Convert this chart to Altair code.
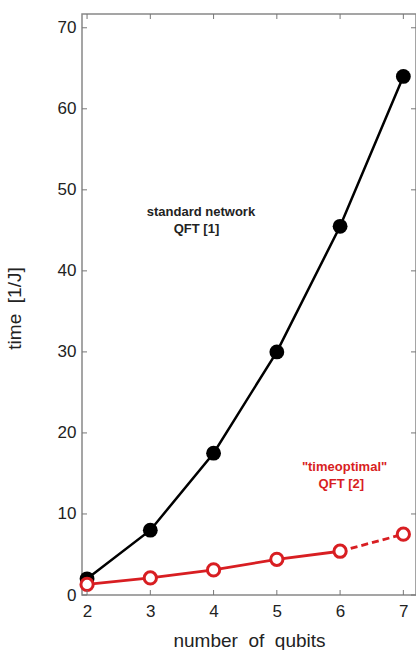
import altair as alt
import pandas as pd

qubits = [2, 3, 4, 5, 6, 7]
standard_qft = [2.0, 8.0, 17.5, 30.0, 45.5, 64.0]
timeopt_qubits = [2, 3, 4, 5, 6]
timeopt_qft = [1.3, 2.1, 3.1, 4.4, 5.4]
timeopt_ext_qubits = [6, 7]
timeopt_ext = [5.4, 7.5]
x_ticks = [2, 3, 4, 5, 6, 7]
y_ticks = [0, 10, 20, 30, 40, 50, 60, 70]

W, H = 334, 581
FONT = "Liberation Sans"
RED = "#d81e22"
NB = "\u00a0"

std_df = pd.DataFrame({"q": qubits, "t": standard_qft})
opt_df = pd.DataFrame({"q": timeopt_qubits, "t": timeopt_qft})
ext_df = pd.DataFrame({"q": timeopt_ext_qubits, "t": timeopt_ext})
opt_pts = pd.DataFrame({"q": timeopt_qubits + [7], "t": timeopt_qft + [7.5]})

xs = alt.Scale(domain=[1.92, 7.2], nice=False, zero=False)
ys = alt.Scale(domain=[0, 71.7], nice=False)

X = alt.X("q:Q", scale=xs, axis=alt.Axis(values=x_ticks, format="d",
           title=f"number{NB} of{NB} qubits",
           labelFontSize=17, titleFontSize=19, labelFont=FONT, titleFont=FONT,
           labelColor="#222", titleColor="#222", ticks=False, domain=False, grid=False,
           labelPadding=8, titlePadding=12, titleFontWeight="normal"))
Y = alt.Y("t:Q", scale=ys, axis=alt.Axis(values=y_ticks, title=f"time{NB} [1/J]",
           labelFontSize=17, titleFontSize=19, labelFont=FONT, titleFont=FONT,
           labelColor="#222", titleColor="#222", ticks=False, domain=False, grid=False,
           labelPadding=6, titleX=-58, titleY=294, titleFontWeight="normal"))

std_line = alt.Chart(std_df).mark_line(color="black", strokeWidth=2.5).encode(x=X, y=Y)
std_pts = alt.Chart(std_df).mark_point(filled=True, color="black", size=220, opacity=1).encode(x="q:Q", y="t:Q")
opt_line = alt.Chart(opt_df).mark_line(color=RED, strokeWidth=2.8).encode(x="q:Q", y="t:Q")
ext_line = alt.Chart(ext_df).mark_line(color=RED, strokeWidth=2.8, strokeDash=[7, 4]).encode(x="q:Q", y="t:Q")
opt_marks = alt.Chart(opt_pts).mark_point(color=RED, fill="white", filled=False, size=150,
                                          strokeWidth=3, opacity=1, fillOpacity=1).encode(x="q:Q", y="t:Q")

# inward ticks
xt = pd.DataFrame({"q": x_ticks})
yt = pd.DataFrame({"t": y_ticks})
TK = "#777"
xb = alt.Chart(xt).mark_rule(color=TK, strokeWidth=1).encode(x="q:Q", y=alt.value(H), y2=alt.value(H - 5))
xtop = alt.Chart(xt).mark_rule(color=TK, strokeWidth=1).encode(x="q:Q", y=alt.value(0), y2=alt.value(5))
yl = alt.Chart(yt).mark_rule(color=TK, strokeWidth=1).encode(y="t:Q", x=alt.value(0), x2=alt.value(5))
yr = alt.Chart(yt).mark_rule(color=TK, strokeWidth=1).encode(y="t:Q", x=alt.value(W), x2=alt.value(W - 5))

labels_std = pd.DataFrame({"q": [3.8, 3.73], "t": [47.3, 45.2], "s": ["standard network", "QFT [1]"]})
labels_opt = pd.DataFrame({"q": [6.07, 6.02], "t": [15.8, 13.7], "s": ["\"timeoptimal\"", "QFT [2]"]})
txt_std = alt.Chart(labels_std).mark_text(font=FONT, fontSize=13, color="#222", fontWeight="bold").encode(
    x="q:Q", y="t:Q", text="s:N")
txt_opt = alt.Chart(labels_opt).mark_text(font=FONT, fontSize=13, color=RED, fontWeight="bold").encode(
    x="q:Q", y="t:Q", text="s:N")

chart = alt.layer(std_line, opt_line, ext_line, std_pts, opt_marks, xb, xtop, yl, yr, txt_std, txt_opt).properties(
    width=W, height=H,
    autosize=alt.AutoSizeParams(type="none"),
    padding={"left": 82, "top": 14, "right": 0, "bottom": 55},
    background="white",
).configure_view(stroke="#888", strokeWidth=1.5)

chart.save("out.html", embed_options={"renderer": "svg", "actions": False})
